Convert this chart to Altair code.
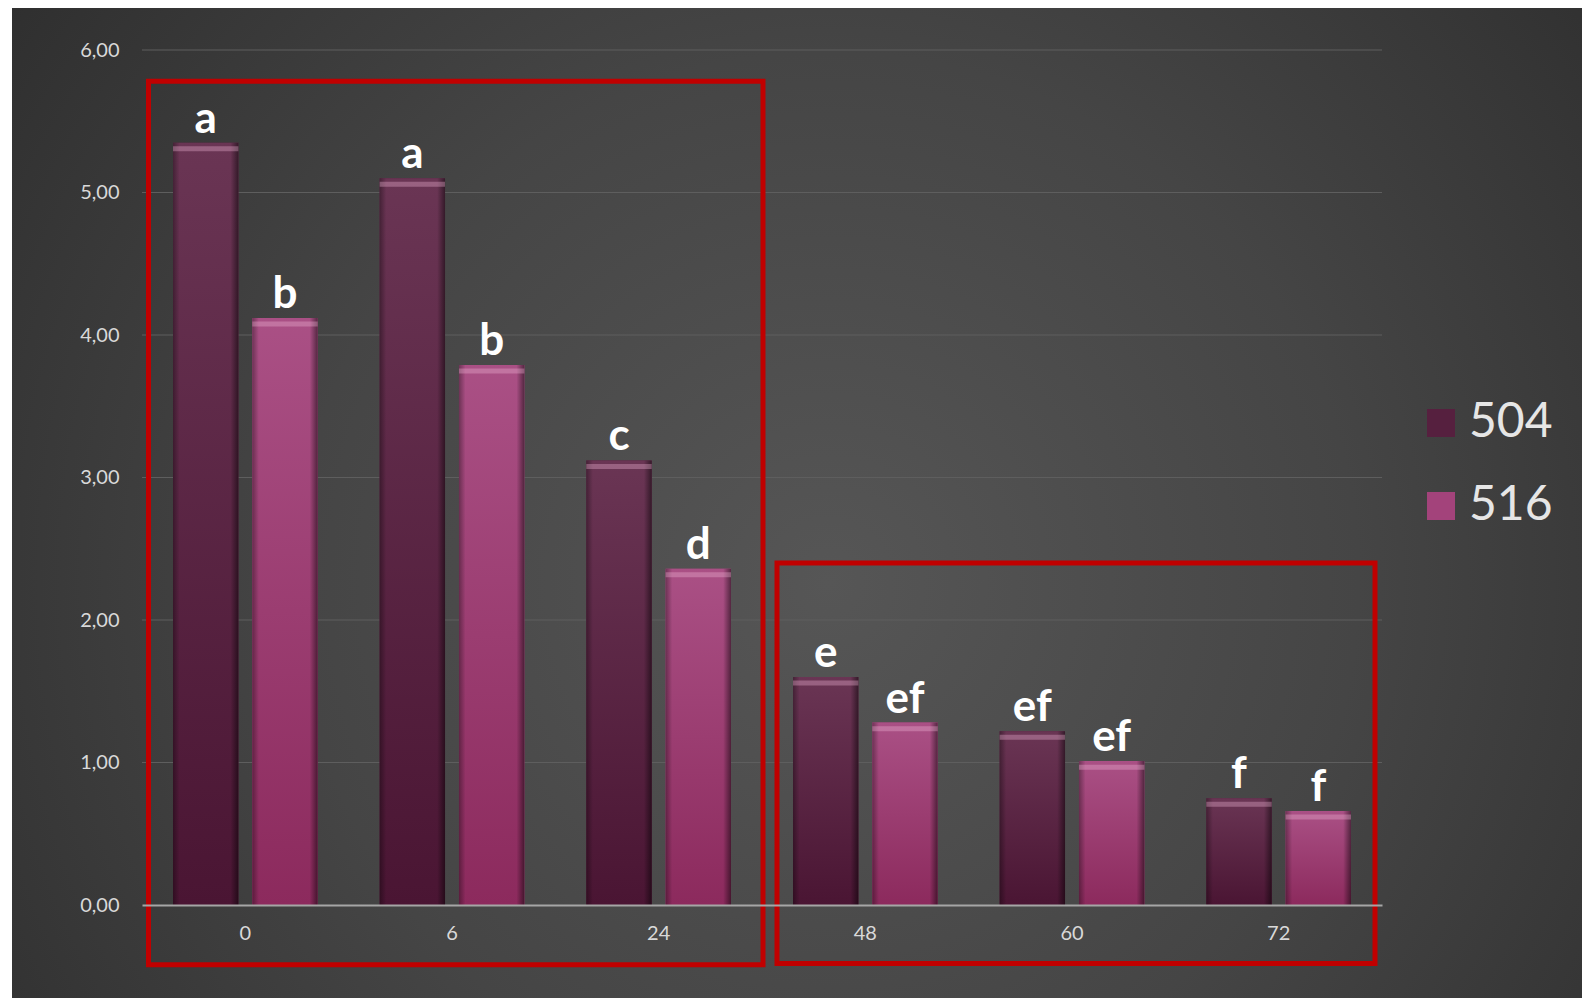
import altair as alt
import pandas as pd

# ---- data ----
categories = ["0", "6", "24", "48", "60", "72"]
series = ["504", "516"]
values_504 = [5.35, 5.10, 3.12, 1.60, 1.22, 0.75]
values_516 = [4.12, 3.79, 2.36, 1.28, 1.01, 0.66]
letters_504 = ["a", "a", "c", "e", "ef", "f"]
letters_516 = ["b", "b", "d", "ef", "ef", "f"]
y_ticks = [0, 1, 2, 3, 4, 5, 6]

# annotation boxes (in data units on y)
box_top = [5.78, 2.40]
box_bottom = [-0.42, -0.41]

rows = []
for i, c in enumerate(categories):
    rows.append(dict(time=c, series="504", value=values_504[i], letter=letters_504[i]))
    rows.append(dict(time=c, series="516", value=values_516[i], letter=letters_516[i]))
df = pd.DataFrame(rows)

W, H = 1240, 855
FONT = "Lato"

x_enc = alt.X("time:N", sort=categories,
              scale=alt.Scale(paddingInner=0.30, paddingOuter=0.15),
              axis=alt.Axis(title=None, labelAngle=0, labelFontSize=20, labelColor="#d9d9d9",
                            labelFont=FONT, labelPadding=18, ticks=False, grid=False,
                            domain=True, domainColor="#a6a6a6", domainWidth=2, zindex=1))
xo_enc = alt.XOffset("series:N", sort=series,
                     scale=alt.Scale(paddingInner=0.176, paddingOuter=0))
y_scale = alt.Scale(domain=[0, 6], nice=False, zero=True)
y_enc = alt.Y("value:Q", scale=y_scale,
              axis=alt.Axis(title=None, values=y_ticks,
                            labelExpr="replace(format(datum.value, '.2f'), '.', ',')",
                            labelFontSize=20, labelColor="#d9d9d9", labelFont=FONT,
                            labelPadding=23, ticks=False, domain=False,
                            grid=False, zindex=1))

# background panel with radial shading
bg = alt.Chart(pd.DataFrame({"d": [0]})).mark_rect(
    fill=alt.RadialGradient(
        gradient="radial",
        stops=[alt.GradientStop(color="#565656", offset=0),
               alt.GradientStop(color="#454545", offset=0.45),
               alt.GradientStop(color="#272727", offset=1)],
        x1=0.52, y1=0.55, r1=0, x2=0.52, y2=0.55, r2=0.75),
).encode(x=alt.value(-130), x2=alt.value(1440), y=alt.value(-42), y2=alt.value(950))

# horizontal gridlines (behind the bars)
grid = alt.Chart(pd.DataFrame({"v": y_ticks[1:]})).mark_rule(
    color="#5e5e5e", strokeWidth=1).encode(y=alt.Y("v:Q", scale=y_scale))

base = alt.Chart(df).encode(x=x_enc, xOffset=xo_enc)

bars = base.mark_bar().encode(
    y=y_enc,
    color=alt.Color("series:N", sort=series,
                    scale=alt.Scale(domain=series, range=["#56203f", "#a3437b"]),
                    legend=alt.Legend(title=None, orient="none", legendX=1275, legendY=349,
                                      symbolType="square", symbolSize=784,
                                      labelFontSize=48, labelColor="#e6e6e6", labelFont=FONT,
                                      labelOffset=4, rowPadding=35, symbolStrokeWidth=0,
                                      symbolOpacity=1)),
)

def vgrad(top, bottom):
    return alt.LinearGradient(gradient="linear",
                              stops=[alt.GradientStop(color=top, offset=0),
                                     alt.GradientStop(color=bottom, offset=1)],
                              x1=0, x2=0, y1=0, y2=1)

g504 = base.transform_filter(alt.datum.series == "504").mark_bar(
    color=vgrad("#6a3554", "#4a1533")).encode(y=alt.Y("value:Q", scale=y_scale))
g516 = base.transform_filter(alt.datum.series == "516").mark_bar(
    color=vgrad("#aa5085", "#8c2a5d")).encode(y=alt.Y("value:Q", scale=y_scale))

edges = base.mark_bar(
    color=alt.LinearGradient(gradient="linear",
                             stops=[alt.GradientStop(color="rgba(0,0,0,0.35)", offset=0),
                                    alt.GradientStop(color="rgba(0,0,0,0)", offset=0.1),
                                    alt.GradientStop(color="rgba(0,0,0,0)", offset=0.88),
                                    alt.GradientStop(color="rgba(0,0,0,0.5)", offset=1)],
                             x1=0, x2=1, y1=0, y2=0)
).encode(y=alt.Y("value:Q", scale=y_scale))

highlight = base.transform_calculate(
    hi_top="datum.value - 0.025", hi_bot="datum.value - 0.06"
).mark_bar(color="#f0b8d8", opacity=0.35).encode(
    y=alt.Y("hi_top:Q", scale=y_scale), y2="hi_bot:Q")

labels = base.mark_text(font=FONT, fontWeight="bold", fontSize=44, color="white",
                        baseline="alphabetic", align="center", dy=-10).encode(
    y=alt.Y("value:Q", scale=y_scale), text="letter:N")

box_df1 = pd.DataFrame({"top": [box_top[0]], "bot": [box_bottom[0]]})
box_df2 = pd.DataFrame({"top": [box_top[1]], "bot": [box_bottom[1]]})
box1 = alt.Chart(box_df1).mark_rect(fill=None, stroke="#c00000", strokeWidth=5).encode(
    x=alt.value(6.5), x2=alt.value(621),
    y=alt.Y("top:Q", scale=y_scale), y2="bot:Q")
box2 = alt.Chart(box_df2).mark_rect(fill=None, stroke="#c00000", strokeWidth=5).encode(
    x=alt.value(635), x2=alt.value(1233),
    y=alt.Y("top:Q", scale=y_scale), y2="bot:Q")

chart = alt.layer(bg, grid, bars, g504, g516, edges, highlight, labels, box1, box2).properties(
    width=W, height=H,
    padding={"left": 134, "top": 42, "right": 200, "bottom": 93},
    autosize=alt.AutoSizeParams(type="none"),
    background="white",
).configure_view(stroke=None)

chart.save("out.html", embed_options={"renderer": "svg", "actions": False})
